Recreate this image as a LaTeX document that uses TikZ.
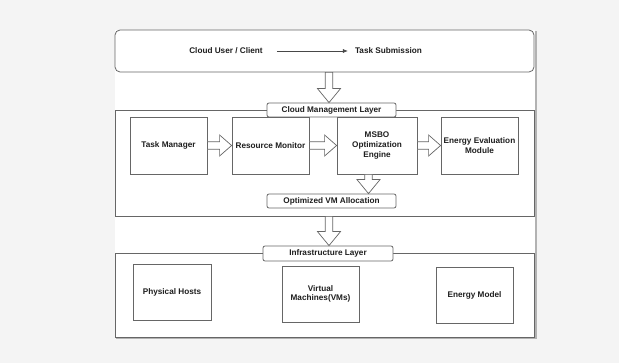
\documentclass[tikz,border=0pt]{standalone}
\usepackage{fontspec}
\setmainfont{Liberation Sans}
\usetikzlibrary{calc,arrows.meta}
\definecolor{bgc}{HTML}{F4F4F4}
\definecolor{linec}{HTML}{666666}
\definecolor{txtc}{HTML}{1E1E1E}
\tikzset{
  box/.style={draw=linec, line width=0.8pt, fill=white, inner sep=1pt, align=center,
    text=txtc, font=\fontsize{8.2}{9.6}\selectfont\bfseries},
  lbl/.style={box, rounded corners=2pt},
  layer/.style={draw=linec, line width=0.8pt, fill=white},
  plain/.style={text=txtc, font=\fontsize{8.2}{9.6}\selectfont\bfseries, inner sep=0pt},
  blk/.style={draw=linec, line width=0.7pt, fill=white, line join=miter},
}
\newcommand\vblk[2]{\draw[blk] let \p1=#1, \p2=#2 in
  (\x1-3.8pt,\y1) -- (\x1-3.8pt,\y2+14pt) -- (\x1-11.5pt,\y2+14pt) -- (\x1,\y2)
  -- (\x1+11.5pt,\y2+14pt) -- (\x1+3.8pt,\y2+14pt) -- (\x1+3.8pt,\y1) -- cycle;}
\newcommand\hblk[2]{\draw[blk] let \p1=#1, \p2=#2 in
  (\x1,\y1+3.8pt) -- (\x2-12pt,\y1+3.8pt) -- (\x2-12pt,\y1+10.5pt) -- (\x2,\y1)
  -- (\x2-12pt,\y1-10.5pt) -- (\x2-12pt,\y1-3.8pt) -- (\x1,\y1-3.8pt) -- cycle;}
\begin{document}
\begin{tikzpicture}[x=1pt,y=-1pt]
\fill[bgc] (0,0) rectangle (619,363);
\useasboundingbox (0,0) rectangle (619,363);
% panel
\fill[black!30] (116,31) rectangle (536.5,339);
\fill[white] (115,30) rectangle (535,337.5);
% layers
\node[layer, rounded corners=5pt, minimum width=419pt, minimum height=42pt] (user) at (324.5,51) {};
\node[layer, minimum width=419pt, minimum height=106pt] (cml) at (324.5,163) {};
\node[layer, minimum width=419pt, minimum height=84pt] (infra) at (324.5,295) {};
% top row text
\node[plain] (cu) at (226,51) {Cloud User / Client};
\node[plain] (ts) at (388.5,51) {Task Submission};
\draw[linec!70!black, line width=0.6pt, -{Latex[length=5pt,width=4pt]}] ([xshift=14pt]cu.east) -- ([xshift=-7pt]ts.west);
% labels
\node[lbl, minimum width=129pt, minimum height=14pt] (cmll) at (331.5,110) {Cloud Management Layer};
\node[lbl, minimum width=129pt, minimum height=14pt] (ova) at (331.5,201) {Optimized VM Allocation};
\node[lbl, minimum width=130pt, minimum height=15pt] (infl) at (328,253.5) {Infrastructure Layer};
% cml boxes
\node[box, minimum width=77pt, minimum height=57pt] (tm) at (168.5,145.5) {Task Manager};
\node[box, minimum width=77pt, minimum height=57pt] (rm) at (270.5,145.5) {Resource Monitor};
\node[box, minimum width=80pt, minimum height=57pt] (msbo) at (377,145.5) {MSBO\\Optimization\\Engine};
\node[box, minimum width=77pt, minimum height=57pt] (eem) at (479.5,145.5) {Energy Evaluation\\Module};
% infra boxes
\node[box, minimum width=78pt, minimum height=56pt] (ph) at (172,292) {Physical Hosts};
\node[box, minimum width=77pt, minimum height=56pt] (vm) at (320.5,294) {Virtual\\Machines(VMs)};
\node[box, minimum width=77pt, minimum height=56pt] (em) at (474.5,295) {Energy Model};
% block arrows
\vblk{(user.south -| 329,0)}{(cmll.north -| 329,0)}
\hblk{(tm.east)}{(rm.west)}
\hblk{(rm.east)}{(msbo.west)}
\hblk{(msbo.east)}{(eem.west)}
\vblk{(msbo.south -| 368.5,0)}{(ova.north -| 368.5,0)}
\vblk{(cml.south -| 329,0)}{(infl.north -| 329,0)}
\end{tikzpicture}
\end{document}
